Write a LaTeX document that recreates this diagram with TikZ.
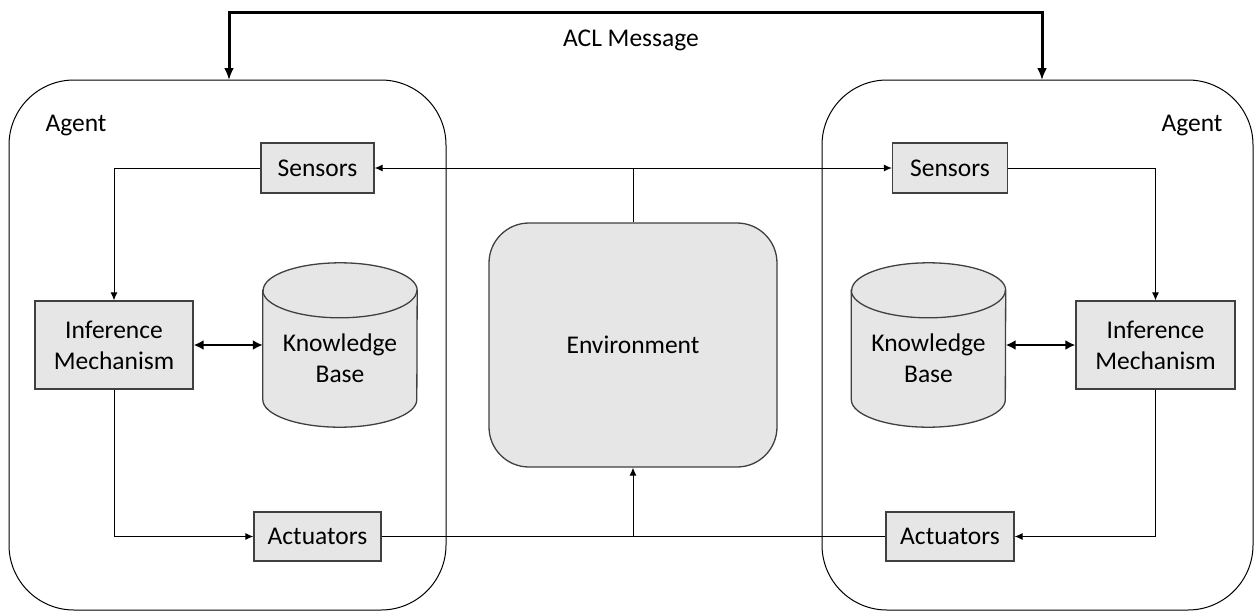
\documentclass[tikz,border=0pt]{standalone}
\usepackage{fontspec}
\setmainfont{Carlito}
\usepackage{tikz}
\usetikzlibrary{shapes,arrows.meta,positioning,calc}
\definecolor{boxfill}{HTML}{E6E6E6}
\definecolor{boxline}{HTML}{404040}

\begin{document}
\begin{tikzpicture}[x=1pt,y=-1pt,
	every node/.style={font=\fontsize{25.5}{31}\selectfont},
	agent/.style={draw,line width=1pt,rounded corners=65pt,minimum height=530pt},
	part/.style={draw=boxline,fill=boxfill,line width=1.3pt,align=center,inner sep=0pt},
	store/.style={minimum width=154pt,minimum height=164pt,inner sep=0pt},
	storeline/.style={draw=boxline,fill=boxfill,line width=1.3pt},
	flow/.style={-{Latex[length=8pt,width=7pt]},line width=1pt},
	link/.style={{Latex[length=10pt,width=10pt]}-{Latex[length=10pt,width=10pt]},line width=2.5pt},
	msg/.style={{Latex[length=12pt,width=10pt]}-{Latex[length=12pt,width=10pt]},line width=3pt}]
	\useasboundingbox (0,0) rectangle (1255,611);
	% the two agents
	\node[agent,minimum width=437pt] (agentL) at (227.5,345) {};
	\node[agent,minimum width=431pt] (agentR) at (1037.5,345) {};
	\node (nameL) at (76,126) {Agent};
	\node (nameR) at (1192,126) {Agent};
	% left agent
	\node[part,minimum width=113pt,minimum height=50pt] (sensL) at (317.5,168) {Sensors};
	\node[part,minimum width=158pt,minimum height=88pt] (infL) at (114,345) {Inference\\Mechanism};
	\node[store] (kbL) at (340,345) {};
	\node[part,minimum width=127pt,minimum height=49pt] (actL) at (317.5,536.5) {Actuators};
	% environment
	\node[part,rounded corners=40pt,minimum width=288pt,minimum height=244pt] (env) at (633,345) {Environment};
	% right agent
	\node[part,minimum width=115pt,minimum height=50pt] (sensR) at (950,168) {Sensors};
	\node[store] (kbR) at (928.5,345) {};
	\node[part,minimum width=159pt,minimum height=88pt] (infR) at (1155.5,345) {Inference\\Mechanism};
	\node[part,minimum width=128pt,minimum height=49pt] (actR) at (950,536.5) {Actuators};
	% knowledge base cylinders
	\foreach \kb in {kbL,kbR} {
		\filldraw[storeline] ($(\kb.north west)+(0,27.5)$) -- ($(\kb.south west)-(0,27.5)$)
			arc[start angle=180,end angle=0,x radius=77,y radius=27.5]
			-- ($(\kb.north east)+(0,27.5)$)
			arc[start angle=0,end angle=-180,x radius=77,y radius=27.5] -- cycle;
		\draw[storeline,fill=none] ($(\kb.north west)+(0,27.5)$)
			arc[start angle=180,end angle=0,x radius=77,y radius=27.5];
		\node[align=center] (\kb text) at ($(\kb)+(0,13)$) {Knowledge\\Base};
	}
	% message between agents
	\coordinate (msgL) at (229,80);
	\coordinate (msgR) at (1042,80);
	\draw[msg] (msgL) -- ++(0,-68) -| (msgR);
	\node (acl) at (631,40) {ACL Message};
	% environment links
	\coordinate (sensJ) at (env.north |- sensL);
	\coordinate (actJ) at (env.south |- actL);
	\draw[line width=1pt] (env.north) -- (sensJ);
	\draw[flow] (sensJ) -- (sensL);
	\draw[flow] (sensJ) -- (sensR);
	\draw[line width=1pt] (actL) -- (actR);
	\draw[flow] (actJ) -- (env);
	% inside the agents
	\draw[flow] (sensL) -| (infL);
	\draw[flow] (infL) |- (actL);
	\draw[flow] (sensR) -| (infR);
	\draw[flow] (infR) |- (actR);
	\draw[link] (infL) -- (kbL);
	\draw[link] (kbR) -- (infR);
\end{tikzpicture}
\end{document}
